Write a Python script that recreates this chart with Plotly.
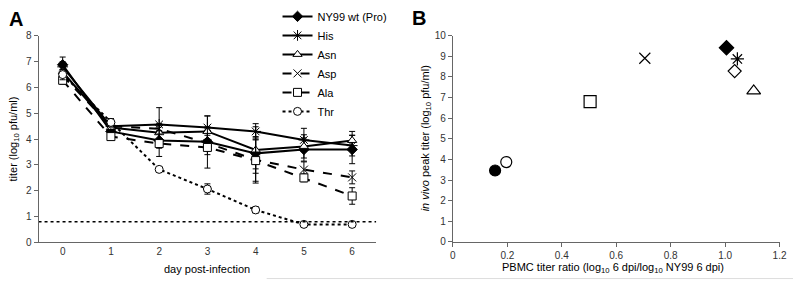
import plotly.graph_objects as go

# ---------------- Panel A data ----------------
days = [0, 1, 2, 3, 4, 5, 6]
series_names = ["NY99 wt (Pro)", "His", "Asn", "Asp", "Ala", "Thr"]
ny99 = [6.88, 4.30, 3.95, 3.90, 3.45, 3.60, 3.60]
his = [6.80, 4.50, 4.57, 4.45, 4.30, 3.97, 3.75]
asn = [6.60, 4.45, 4.25, 4.30, 3.58, 3.72, 3.95]
asp = [6.45, 4.50, 4.40, 3.85, 3.20, 2.82, 2.52]
ala = [6.28, 4.10, 3.83, 3.68, 3.17, 2.50, 1.80]
thr = [6.50, 4.65, 2.83, 2.07, 1.26, 0.70, 0.70]

ny99_err = [0.30, 0.15, 0.30, 0.50, 0.60, 0.45, 0.55]
his_err = [0.20, 0.15, 0.65, 0.45, 0.30, 0.45, 0.40]
asn_err = [0.20, 0.10, 0.30, 0.60, 0.90, 0.45, 0.35]
asp_err = [0.15, 0.15, 0.20, 0.30, 0.90, 0.30, 0.25]
ala_err = [0.15, 0.10, 0.50, 0.80, 0.80, 0.15, 0.32]
thr_err = [0.20, 0.15, 0.05, 0.20, 0.12, 0.05, 0.05]

detection_limit = 0.8

# ---------------- Panel B data ----------------
b_labels = ["other (filled circle)", "Thr", "Ala", "Asp", "NY99 wt (Pro)", "His", "other (open diamond)", "Asn"]
b_ratio = [0.155, 0.196, 0.504, 0.705, 1.005, 1.045, 1.035, 1.105]
b_peak = [3.46, 3.87, 6.80, 8.90, 9.41, 8.87, 8.28, 7.32]

# ---------------- styles ----------------
FONT = "Arial, Liberation Sans, sans-serif"
a_styles = [
    dict(symbol="diamond", color="black", fill="black", size=8, dash="solid"),
    dict(symbol="asterisk-open", color="black", fill="black", size=9, dash="solid"),
    dict(symbol="triangle-up", color="black", fill="white", size=8, dash="solid"),
    dict(symbol="x-thin-open", color="black", fill="black", size=8, dash="dash"),
    dict(symbol="square", color="black", fill="white", size=8, dash="dash"),
    dict(symbol="circle", color="black", fill="white", size=8, dash="dot"),
]
b_symbols = ["circle", "circle", "square", "x-thin-open", "diamond", "asterisk-open", "diamond", "triangle-up"]
b_fills = ["black", "white", "white", "black", "black", "black", "white", "white"]
b_sizes = [11, 11, 12, 11, 11, 11, 10, 12]

fig = go.Figure()

values = [ny99, his, asn, asp, ala, thr]
errors = [ny99_err, his_err, asn_err, asp_err, ala_err, thr_err]
for name, vals, errs, st in zip(series_names, values, errors, a_styles):
    fig.add_trace(go.Scatter(
        x=days, y=vals, name=name, mode="lines+markers",
        line=dict(color="black", width=2, dash=st["dash"]),
        marker=dict(symbol=st["symbol"], size=st["size"], color=st["fill"],
                    line=dict(color="black", width=1), opacity=1),
        error_y=dict(type="data", array=errs, visible=True, color="black",
                     thickness=1, width=3),
        xaxis="x", yaxis="y",
    ))

# detection limit line
fig.add_trace(go.Scatter(
    x=[-0.5, 6.5], y=[detection_limit, detection_limit], mode="lines",
    line=dict(color="black", width=1.5, dash="dot"), showlegend=False,
    hoverinfo="skip", xaxis="x", yaxis="y",
))

fig.add_trace(go.Scatter(
    x=b_ratio, y=b_peak, mode="markers", text=b_labels, showlegend=False,
    marker=dict(symbol=b_symbols, size=b_sizes, color=b_fills, opacity=1,
                line=dict(color="black", width=1.2)),
    xaxis="x2", yaxis="y2",
))

axis_common = dict(showgrid=False, zeroline=False, showline=True, linecolor="#666",
                   linewidth=1, tickfont=dict(family=FONT, size=10, color="#333"),
                   ticklabeloverflow="allow")

fig.update_layout(
    width=800, height=285,
    margin=dict(l=0, r=0, t=0, b=0),
    paper_bgcolor="white", plot_bgcolor="white",
    font=dict(family=FONT, color="black"),
    xaxis=dict(domain=[0.045, 0.4725], range=[-0.5, 6.5], tickvals=days,
               ticks="", anchor="y", **axis_common),
    yaxis=dict(domain=[0.137, 0.891], range=[0, 8], dtick=1, ticks="outside",
               ticklen=4, tickcolor="#666", anchor="x", **axis_common),
    xaxis2=dict(domain=[0.5695, 0.983], range=[0, 1.2],
                tickvals=[0, 0.2, 0.4, 0.6, 0.8, 1.0, 1.2],
                ticktext=["0", "0.2", "0.4", "0.6", "0.8", "1.0", "1.2"],
                ticks="outside", ticklen=4, tickcolor="#666", anchor="y2", **axis_common),
    yaxis2=dict(domain=[0.139, 0.892], range=[0, 10], dtick=1, ticks="outside",
                ticklen=4, tickcolor="#666", anchor="x2", **axis_common),
    legend=dict(x=0.3475, y=1.015, xanchor="left", yanchor="top",
                font=dict(family=FONT, size=11, color="black"),
                bgcolor="rgba(0,0,0,0)", tracegroupgap=0, itemwidth=30),
    showlegend=True,
)

annotations = [
    dict(text="<b>A</b>", x=13, y=14, font=dict(size=20)),
    dict(text="<b>B</b>", x=421, y=12, font=dict(size=20)),
    dict(text="titer (log<sub>10</sub> pfu/ml)", x=11, y=138, textangle=-90, font=dict(size=11)),
    dict(text="day post-infection", x=207, y=274, font=dict(size=11)),
    dict(text="<i>in vivo</i> peak titer (log<sub>10</sub> pfu/ml)", x=428, y=138, textangle=-90, font=dict(size=11)),
    dict(text="PBMC titer ratio (log<sub>10</sub> 6 dpi/log<sub>10</sub> NY99 6 dpi)", x=618, y=273, font=dict(size=11)),
]
for a in annotations:
    fig.add_annotation(
        text=a["text"], x=a["x"] / 800, y=1 - a["y"] / 285, xref="paper", yref="paper",
        showarrow=False, xanchor="center", yanchor="middle", textangle=a.get("textangle", 0),
        font=dict(family=FONT, color="black", size=a["font"]["size"]),
    )

fig.add_shape(type="line", xref="paper", yref="paper", x0=267 / 800, x1=1, y0=1 - 283.5 / 285,
              y1=1 - 283.5 / 285, line=dict(color="#dddddd", width=1))

fig.write_html(
    "out.html",
    config={"displayModeBar": False},
    post_script="document.body.style.margin='0';document.body.style.overflow='hidden';",
)
